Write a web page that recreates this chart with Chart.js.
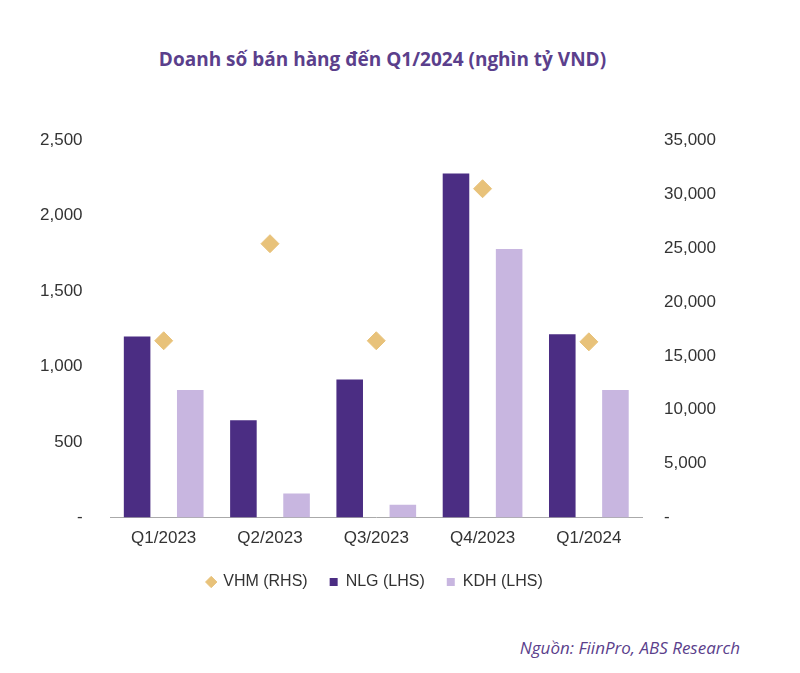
<!DOCTYPE html>
<html><head><meta charset="utf-8">
<script src="https://cdn.jsdelivr.net/npm/chart.js@4"></script>
<style>
body{margin:0;background:#fff;font-family:"Open Sans",sans-serif;}
#wrap{position:absolute;left:20px;top:110px;width:720px;height:490px;}
h1{position:absolute;left:0;top:46px;width:765px;text-align:center;margin:0;font-size:19px;color:#5b3f8c;font-weight:700;}
#src{position:absolute;right:60px;top:636px;font-style:italic;font-size:17px;color:#5b3f8c;}
</style></head><body>
<h1>Doanh số bán hàng đến Q1/2024 (nghìn tỷ VND)</h1>
<div id="wrap"><canvas id="c"></canvas></div>
<div id="src">Nguồn: FiinPro, ABS Research</div>
<script>
const categories=["Q1/2023","Q2/2023","Q3/2023","Q4/2023","Q1/2024"];
const nlg=[1200,645,915,2280,1215];
const kdh=[845,160,85,1780,845];
const vhm=[16400,25400,16400,30500,16300];
const fmt=v=>v===0?"-":v.toLocaleString("en-US");
new Chart(document.getElementById("c"),{
 type:"bar",
 data:{labels:categories,datasets:[
  {type:"bar",label:"NLG (LHS)",data:nlg,yAxisID:"y",backgroundColor:"#4b2d83",barPercentage:0.5,categoryPercentage:1,order:1},
  {type:"bar",label:"KDH (LHS)",data:kdh,yAxisID:"y",backgroundColor:"#c8b6e0",barPercentage:0.5,categoryPercentage:1,order:2},
  {type:"line",showLine:false,label:"VHM (RHS)",data:vhm,yAxisID:"y2",backgroundColor:"#e8c27a",borderColor:"#e8c27a",pointStyle:"rectRot",pointRadius:9,order:0}
 ]},
 options:{responsive:true,maintainAspectRatio:false,animation:false,
  layout:{padding:{left:0,right:10,top:15}},
  plugins:{legend:{position:"bottom",labels:{usePointStyle:true,boxWidth:8,boxHeight:8,font:{size:16},color:"#333",padding:22,
    generateLabels:c=>{const o=Chart.defaults.plugins.legend.labels.generateLabels(c);
      o.forEach(l=>{l.pointStyle=l.text.startsWith("VHM")?"rectRot":"rect";});
      return o;}}},tooltip:{enabled:false}},
  scales:{
   x:{type:"category",grid:{display:false},border:{color:"#aaa"},ticks:{font:{size:17},color:"#333"}},
   y:{min:0,max:2500,ticks:{stepSize:500,callback:fmt,font:{size:17},color:"#333",padding:20},grid:{display:false},border:{display:false}},
   y2:{position:"right",min:0,max:35000,ticks:{stepSize:5000,callback:fmt,font:{size:17},color:"#333",padding:14},grid:{display:false},border:{display:false}}
  }}
});
</script></body></html>
